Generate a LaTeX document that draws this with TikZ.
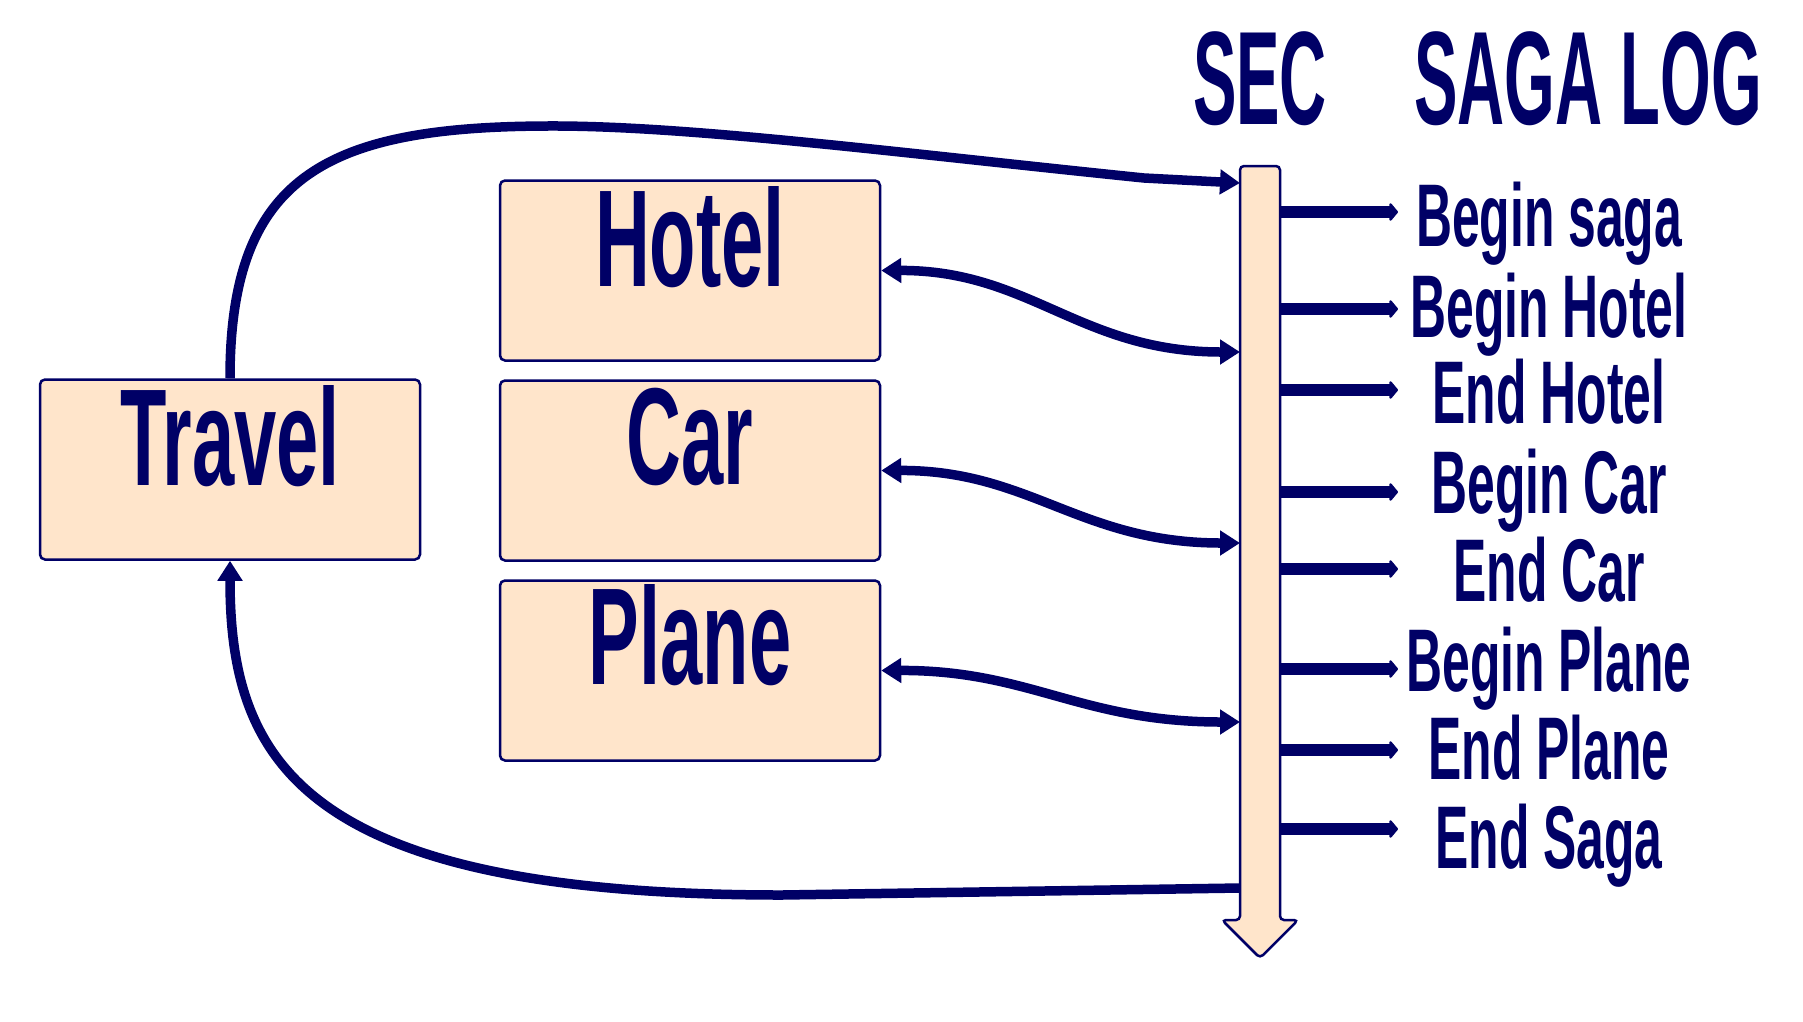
\documentclass[tikz,border=0pt]{standalone}
\usepackage{fontspec}
\usetikzlibrary{arrows.meta}
\newfontfamily\boxfont[FakeStretch=0.55]{Liberation Sans}
\newfontfamily\logfont[FakeStretch=0.56]{Liberation Sans}
\newfontfamily\headfont[FakeStretch=0.49]{Liberation Sans}
\definecolor{navy}{HTML}{000066}
\definecolor{peach}{HTML}{FFE5CB}
\begin{document}
\begin{tikzpicture}[x=1pt,y=-1pt,
  svc/.style={draw=navy, fill=peach, line width=2.5pt, rounded corners=5pt,
    minimum width=380pt, minimum height=180pt, inner sep=0pt},
  svclabel/.style={text=navy, anchor=base, inner sep=0pt,
    font={\boxfont\bfseries\fontsize{138}{140}\selectfont}},
  loglabel/.style={text=navy, anchor=base, inner sep=0pt,
    font={\logfont\bfseries\fontsize{89}{90}\selectfont}},
  headlabel/.style={text=navy, anchor=base, inner sep=0pt,
    font={\headfont\bfseries\fontsize{133}{135}\selectfont}},
  conn/.style={draw=navy, line width=9.5pt},
  bigtip/.style={-{Triangle[length=20pt,width=24pt]}},
  bothtips/.style={{Triangle[length=20pt,width=24pt]}-{Triangle[length=20pt,width=24pt]}},
  logarrow/.style={draw=navy, line width=11.5pt, -{Triangle[length=9pt,width=21pt,round]}}
]
\useasboundingbox (0,0) rectangle (1803,1021);

% services
\node[svc] (travel) at (230,469.5) {};
\node[svc] (hotel)  at (690,270.5) {};
\node[svc] (car)    at (690,470.5) {};
\node[svc] (plane)  at (690,670.5) {};
\node[svclabel] (travel-text) at (230,485) {Travel};
\node[svclabel] (hotel-text)  at (690,286) {Hotel};
\node[svclabel] (car-text)    at (690,484) {Car};
\node[svclabel] (plane-text)  at (690,684) {Plane};

% SEC time line
\draw[navy, fill=peach, line width=2.5pt, rounded corners=4pt]
  (1240,166) -- (1280,166) -- (1280,920) -- (1298,920) -- (1260,958)
  -- (1222,920) -- (1240,920) -- cycle;

% headings
\node[headlabel] (sec-head) at (1260,124) {SEC};
\node[headlabel] (log-head) at (1588,124) {SAGA LOG};

% points on the time line
\coordinate (sec-start) at (1240,183);
\coordinate (sec-hotel) at (1240,352);
\coordinate (sec-car)   at (1240,543);
\coordinate (sec-plane) at (1240,722);
\coordinate (sec-end)   at (1240,888);

% Travel starts the saga and receives the result
\draw[conn, bigtip] (travel.north) .. controls (230,172) and (330,125) .. (560,126)
  .. controls (700,127) and (900,153) .. (1144,178) -- (sec-start);
\draw[conn, bigtip] (sec-end) -- (782,895) .. controls (300,895) and (230,760) .. (travel.south);

% sub-transactions
\draw[conn, bothtips] (hotel.east) .. controls (1030,270) and (1080,352) .. (sec-hotel);
\draw[conn, bothtips] (car.east)   .. controls (1030,470) and (1080,543) .. (sec-car);
\draw[conn, bothtips] (plane.east) .. controls (1030,670) and (1080,722) .. (sec-plane);

% saga log entries
\foreach \name/\ya/\yb/\txt in {
    l1/212/246/Begin saga,
    l2/309/337/Begin Hotel,
    l3/390/423/End Hotel,
    l4/492/513/Begin Car,
    l5/569/601/End Car,
    l6/669/691/Begin Plane,
    l7/750/779/End Plane,
    l8/829/868/End Saga}{
  \coordinate (\name-from) at (1280,\ya);
  \coordinate (\name-to) at (1398,\ya);
  \draw[logarrow] (\name-from) -- (\name-to);
  \node[loglabel] (\name-text) at (1549,\yb) {\txt};
}
\end{tikzpicture}
\end{document}
